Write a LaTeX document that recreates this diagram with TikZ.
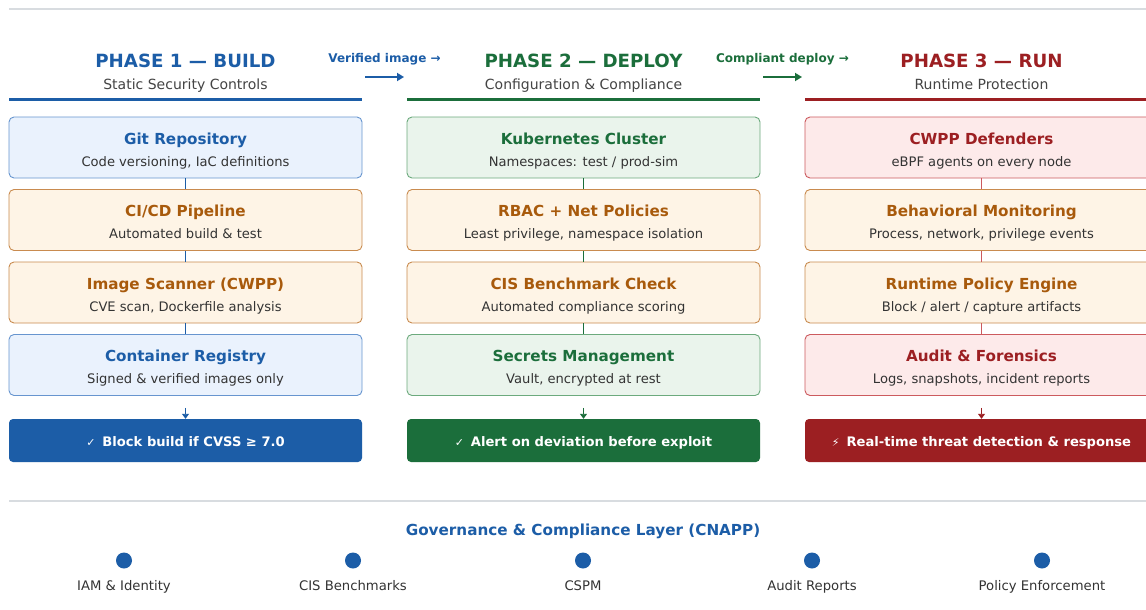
\documentclass[tikz,border=0pt]{standalone}
\usepackage{fontspec}
\setmainfont{DejaVu Sans}
\usetikzlibrary{arrows.meta}
\definecolor{pblue}{HTML}{1C5DA7}
\definecolor{pgreen}{HTML}{1B6E3B}
\definecolor{pred}{HTML}{9C1F22}
\definecolor{porange}{HTML}{A85A0C}
\definecolor{fblue}{HTML}{EAF2FD}
\definecolor{dblue}{HTML}{6795CF}
\definecolor{forange}{HTML}{FEF4E6}
\definecolor{dorange}{HTML}{C98B4F}
\definecolor{fgreen}{HTML}{EAF4EC}
\definecolor{dgreen}{HTML}{6CAA7D}
\definecolor{fred}{HTML}{FDEAEA}
\definecolor{dred}{HTML}{CC5A5E}
\definecolor{subgray}{HTML}{333333}
\definecolor{hgray}{HTML}{444444}
\definecolor{rulegray}{HTML}{D8DCE0}
\tikzset{
  box/.style={draw=#1, line width=0.9pt, rounded corners=5pt, minimum width=353pt, minimum height=61pt, inner sep=0pt},
  bluebox/.style={box=dblue, fill=fblue},
  orangebox/.style={box=dorange, fill=forange},
  greenbox/.style={box=dgreen, fill=fgreen},
  redbox/.style={box=dred, fill=fred},
  ttl/.style={font=\fontsize{15.2}{18}\selectfont\bfseries, inner sep=0pt, anchor=base},
  sub/.style={font=\fontsize{13.1}{16}\selectfont, text=subgray, inner sep=0pt, anchor=base},
  htitle/.style={font=\fontsize{18.2}{22}\selectfont\bfseries, inner sep=0pt, anchor=base},
  hsub/.style={font=\fontsize{14}{17}\selectfont, text=hgray, inner sep=0pt, anchor=base},
  bar/.style={fill=#1, rounded corners=4pt, minimum width=353pt, minimum height=43pt, inner sep=0pt},
  bartext/.style={text=white, font=\fontsize{13.1}{16}\selectfont\bfseries, inner sep=0pt, anchor=base},
  link/.style={draw=#1, line width=0.9pt},
  dnarrow/.style={draw=#1, line width=0.9pt, -{Triangle[width=7pt,length=5pt]}},
  phasearrow/.style={draw=#1, line width=1.8pt, -{Triangle[width=8pt,length=7pt]}},
  alabel/.style={font=\fontsize{12}{14}\selectfont\bfseries, text=#1, inner sep=0pt, anchor=base},
  hrule/.style={draw=#1, line width=3pt},
  dot/.style={circle, fill=pblue, minimum size=16pt, inner sep=0pt},
  glabel/.style={font=\fontsize{13.2}{16}\selectfont, text=subgray, inner sep=0pt, anchor=base},
}
\begin{document}
\begin{tikzpicture}[x=1pt,y=-1pt]
\useasboundingbox (0,0) rectangle (1146,610);
\clip (0,0) rectangle (1146,610);
\fill[white] (0,0) rectangle (1146,610);
% top rule
\draw[rulegray, line width=1.5pt] (9,9) -- (1146,9);

% ===== Headers =====
\node[htitle, text=pblue] (h1) at (185.5,67.7) {PHASE 1 — BUILD};
\node[hsub] (s1) at (185.5,89) {Static Security Controls};
\node[htitle, text=pgreen] (h2) at (583.5,67.7) {PHASE 2 — DEPLOY};
\node[hsub] (s2) at (583.5,89) {Configuration \& Compliance};
\node[htitle, text=pred] (h3) at (981.5,67.7) {PHASE 3 — RUN};
\node[hsub] (s3) at (981.5,89) {Runtime Protection};
\draw[hrule=pblue] (9,99) -- (362,99);
\draw[hrule=pgreen] (407,99) -- (760,99);
\draw[hrule=pred] (805,99) -- (1158,99);

% phase arrows
\node[alabel=pblue] (l12) at (384.5,62.3) {Verified image →};
\coordinate (a12s) at (365,77);
\coordinate (a12e) at (404,77);
\draw[phasearrow=pblue] (a12s) -- (a12e);
\node[alabel=pgreen] (l23) at (782.5,62.3) {Compliant deploy →};
\coordinate (a23s) at (763,77);
\coordinate (a23e) at (802,77);
\draw[phasearrow=pgreen] (a23s) -- (a23e);

% ===== Column 1 =====
\node[bluebox] (b11) at (185.5,147.5) {};
\node[orangebox] (b12) at (185.5,220) {};
\node[orangebox] (b13) at (185.5,292.5) {};
\node[bluebox] (b14) at (185.5,365) {};
\node[ttl, text=pblue] at ([yshift=3.5pt]b11.center) {Git Repository};
\node[sub] at ([yshift=-18.5pt]b11.center) {Code versioning, IaC definitions};
\node[ttl, text=porange] at ([yshift=3.5pt]b12.center) {CI/CD Pipeline};
\node[sub] at ([yshift=-18.5pt]b12.center) {Automated build \& test};
\node[ttl, text=porange] at ([yshift=3.5pt]b13.center) {Image Scanner (CWPP)};
\node[sub] at ([yshift=-18.5pt]b13.center) {CVE scan, Dockerfile analysis};
\node[ttl, text=pblue] at ([yshift=3.5pt]b14.center) {Container Registry};
\node[sub] at ([yshift=-18.5pt]b14.center) {Signed \& verified images only};
\draw[link=pblue] (b11.south) -- (b12.north);
\draw[link=pblue] (b12.south) -- (b13.north);
\draw[link=pblue] (b13.south) -- (b14.north);
\node[bar=pblue] (r1) at (185.5,440.5) {};
\node[bartext] at ([yshift=-5.5pt]r1.center) {{\mdseries\fontsize{11}{13}\selectfont ✓}\hspace{7pt}Block build if CVSS ≥ 7.0};
\coordinate (c1) at ([yshift=-12pt]b14.south);
\draw[dnarrow=pblue] (c1) -- (r1.north);

% ===== Column 2 =====
\node[greenbox] (b21) at (583.5,147.5) {};
\node[orangebox] (b22) at (583.5,220) {};
\node[orangebox] (b23) at (583.5,292.5) {};
\node[greenbox] (b24) at (583.5,365) {};
\node[ttl, text=pgreen] at ([yshift=3.5pt]b21.center) {Kubernetes Cluster};
\node[sub] at ([yshift=-18.5pt]b21.center) {Namespaces: test / prod-sim};
\node[ttl, text=porange] at ([yshift=3.5pt]b22.center) {RBAC + Net Policies};
\node[sub] at ([yshift=-18.5pt]b22.center) {Least privilege, namespace isolation};
\node[ttl, text=porange] at ([yshift=3.5pt]b23.center) {CIS Benchmark Check};
\node[sub] at ([yshift=-18.5pt]b23.center) {Automated compliance scoring};
\node[ttl, text=pgreen] at ([yshift=3.5pt]b24.center) {Secrets Management};
\node[sub] at ([yshift=-18.5pt]b24.center) {Vault, encrypted at rest};
\draw[link=pgreen] (b21.south) -- (b22.north);
\draw[link=pgreen] (b22.south) -- (b23.north);
\draw[link=pgreen] (b23.south) -- (b24.north);
\node[bar=pgreen] (r2) at (583.5,440.5) {};
\node[bartext] at ([yshift=-5.5pt]r2.center) {{\mdseries\fontsize{11}{13}\selectfont ✓}\hspace{7pt}Alert on deviation before exploit};
\coordinate (c2) at ([yshift=-12pt]b24.south);
\draw[dnarrow=pgreen] (c2) -- (r2.north);

% ===== Column 3 =====
\node[redbox] (b31) at (981.5,147.5) {};
\node[orangebox] (b32) at (981.5,220) {};
\node[orangebox] (b33) at (981.5,292.5) {};
\node[redbox] (b34) at (981.5,365) {};
\node[ttl, text=pred] at ([yshift=3.5pt]b31.center) {CWPP Defenders};
\node[sub] at ([yshift=-18.5pt]b31.center) {eBPF agents on every node};
\node[ttl, text=porange] at ([yshift=3.5pt]b32.center) {Behavioral Monitoring};
\node[sub] at ([yshift=-18.5pt]b32.center) {Process, network, privilege events};
\node[ttl, text=porange] at ([yshift=3.5pt]b33.center) {Runtime Policy Engine};
\node[sub] at ([yshift=-18.5pt]b33.center) {Block / alert / capture artifacts};
\node[ttl, text=pred] at ([yshift=3.5pt]b34.center) {Audit \& Forensics};
\node[sub] at ([yshift=-18.5pt]b34.center) {Logs, snapshots, incident reports};
\draw[link=dred] (b31.south) -- (b32.north);
\draw[link=dred] (b32.south) -- (b33.north);
\draw[link=dred] (b33.south) -- (b34.north);
\node[bar=pred] (r3) at (981.5,440.5) {};
\node[bartext] at ([yshift=-5.5pt]r3.center) {{\mdseries\fontsize{11}{13}\selectfont ⚡}\hspace{7pt}Real-time threat detection \& response};
\coordinate (c3) at ([yshift=-12pt]b34.south);
\draw[dnarrow=pred] (c3) -- (r3.north);

% ===== Governance =====
\draw[rulegray, line width=1.5pt] (9,501) -- (1146,501);
\node[font=\fontsize{15.2}{18}\selectfont\bfseries, text=pblue, inner sep=0pt, anchor=base] (gov) at (583,535) {Governance \& Compliance Layer (CNAPP)};
\node[dot] (d1) at (124,560.5) {};
\node[dot] (d2) at (353,560.5) {};
\node[dot] (d3) at (583,560.5) {};
\node[dot] (d4) at (812,560.5) {};
\node[dot] (d5) at (1042,560.5) {};
\node[glabel] (g1) at (124,590) {IAM \& Identity};
\node[glabel] (g2) at (353,590) {CIS Benchmarks};
\node[glabel] (g3) at (583,590) {CSPM};
\node[glabel] (g4) at (812,590) {Audit Reports};
\node[glabel] (g5) at (1042,590) {Policy Enforcement};
\end{tikzpicture}
\end{document}
